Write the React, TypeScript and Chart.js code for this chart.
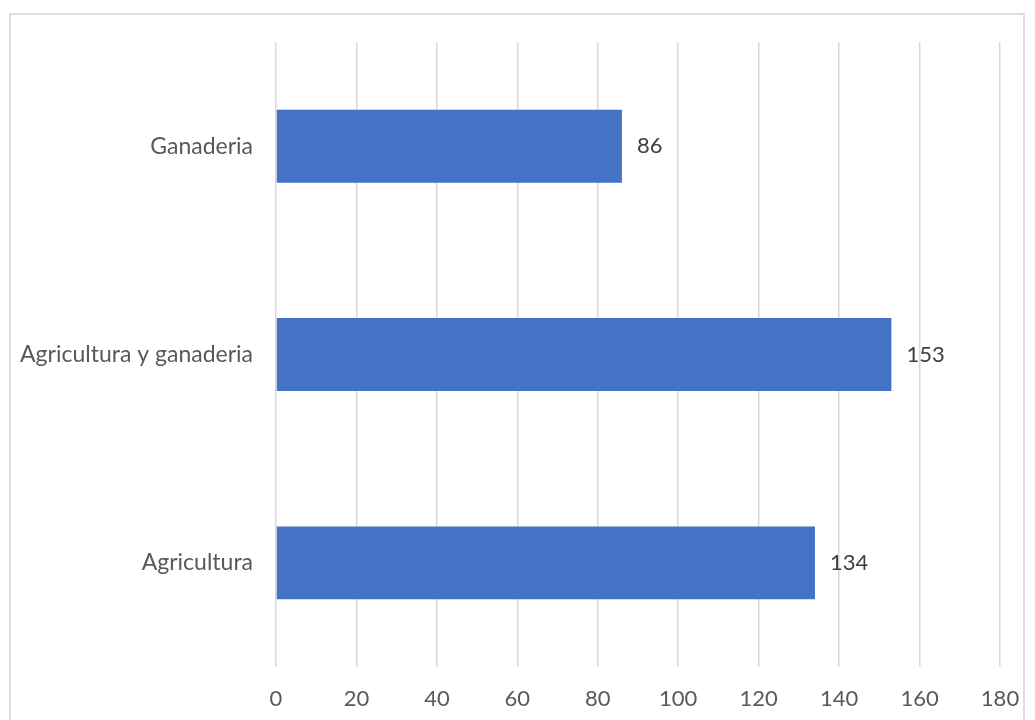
import React, { useEffect, useRef } from "react";
import { Chart, registerables } from "chart.js";

Chart.register(...registerables);

const categories = ["Ganaderia", "Agricultura y ganaderia", "Agricultura"];
const values = [86, 153, 134];
const xTicks = [0, 20, 40, 60, 80, 100, 120, 140, 160, 180];

const FONT = "Lato";
const TEXT = "#595959";

const labelPlugin = {
  id: "barValueLabels",
  afterDatasetsDraw(chart: any) {
    const ctx = chart.ctx;
    const meta = chart.getDatasetMeta(0);
    ctx.save();
    ctx.font = `22px ${FONT}`;
    ctx.fillStyle = "#404040";
    ctx.textAlign = "left";
    ctx.textBaseline = "middle";
    meta.data.forEach((bar: any, i: number) => {
      ctx.fillText(String(values[i]), bar.x + 15, bar.y);
    });
    ctx.restore();
  },
};

export default function App() {
  const ref = useRef<HTMLCanvasElement>(null);
  useEffect(() => {
    if (!ref.current) return;
    const chart = new Chart(ref.current, {
      type: "bar",
      data: {
        labels: categories,
        datasets: [
          {
            data: values,
            backgroundColor: "#4472C4",
            barPercentage: 0.35,
            categoryPercentage: 1,
          },
        ],
      },
      options: {
        indexAxis: "y",
        animation: false,
        responsive: false,
        maintainAspectRatio: false,
        layout: { padding: { top: 42, right: 35, left: 0, bottom: 0 } },
        plugins: { legend: { display: false }, tooltip: { enabled: false } },
        scales: {
          x: {
            min: 0,
            max: 180,
            afterBuildTicks: (s: any) => {
              s.ticks = xTicks.map((v) => ({ value: v }));
            },
            afterFit: (s: any) => {
              s.height = 53;
              s.paddingRight = 0;
              s.paddingLeft = 0;
            },
            grid: { color: "#d9d9d9", lineWidth: 1.5, drawTicks: false },
            border: { display: false },
            ticks: {
              font: { family: FONT, size: 22 },
              color: TEXT,
              padding: 19,
            },
          },
          y: {
            afterFit: (s: any) => {
              s.width = 276;
            },
            grid: { display: false, drawTicks: false },
            border: { display: false },
            ticks: {
              font: { family: FONT, size: 23 },
              color: TEXT,
              padding: 23,
            },
          },
        },
      },
      plugins: [labelPlugin],
    });
    return () => chart.destroy();
  }, []);
  return (
    <div style={{ position: "absolute", left: 0, top: 0, width: 1035, height: 720, overflow: "hidden", background: "#fff" }}>
      <div
        style={{
          position: "absolute",
          left: 9,
          top: 13,
          width: 1016,
          height: 720,
          border: "2px solid #dedede",
          boxSizing: "border-box",
        }}
      />
      <canvas ref={ref} width={1035} height={720} style={{ position: "absolute", left: 0, top: 0 }} />
    </div>
  );
}
